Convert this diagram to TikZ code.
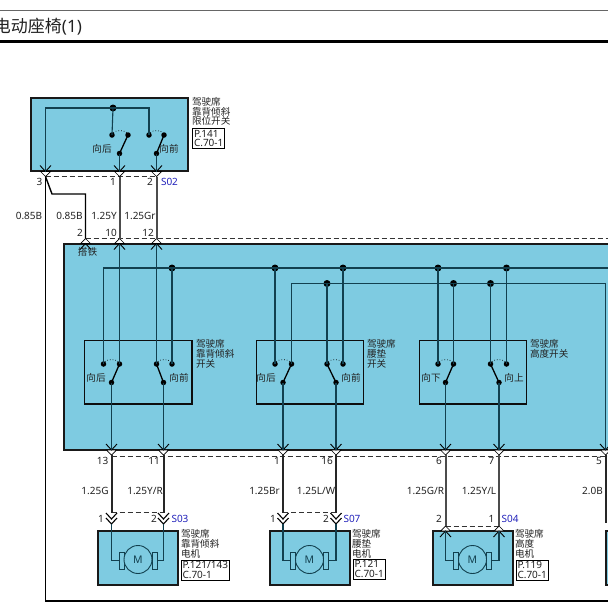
\documentclass[tikz,border=0pt]{standalone}
\usepackage{fontspec}
\setmainfont{Noto Sans}
\newfontfamily\cjk{Noto Sans CJK SC}
\definecolor{panel}{HTML}{7ECBE1}
\definecolor{inner}{HTML}{12404F}
\definecolor{pinblue}{HTML}{2222BB}
\definecolor{ink}{HTML}{222222}
\tikzset{
  every node/.append style={outer sep=0pt},
  panelbox/.style={draw=black!90,line width=2pt,fill=panel,inner sep=0pt},
  swbox/.style={draw=black!95,line width=1.9pt,fill=none,inner sep=0pt},
  refbox/.style={draw=black,line width=.9pt,fill=white,inner sep=1.5pt,align=left,text=ink,font=\fontsize{10}{9.8}\selectfont},
  wire/.style={draw=inner,line width=1.1pt},
  hwire/.style={draw=black!85,line width=2pt},
  gwire/.style={draw=black!70,line width=2pt},
  blackline/.style={draw=black,line width=1.1pt},
  dot/.style={circle,fill=black,inner sep=0pt,minimum size=5.5pt},
  bigdot/.style={circle,fill=black,inner sep=0pt,minimum size=7pt},
  dashln/.style={draw=black!80,line width=.9pt,dash pattern=on 5pt off 3pt},
  lbl/.style={inner sep=0pt,text=ink,font=\fontsize{10}{10}\selectfont},
  plbl/.style={lbl,text=pinblue},
  zh/.style={inner sep=0pt,anchor=west,align=left,text=ink,font=\cjk\fontsize{9.6}{9.7}\selectfont},
  zhc/.style={inner sep=0pt,text=ink,font=\cjk\fontsize{9.6}{9.7}\selectfont}
}
% pin on a lower box edge: arrow points down into a white wedge
\newcommand\pindown[3]{%
  \coordinate (#1) at (#2,#3);
  \coordinate (#1-t) at (#2,#3+5);
  \filldraw[fill=white,draw=black,line width=.7pt] (#2-5,#3) -- (#1-t) -- (#2+5,#3) -- cycle;
  \draw[blackline,line width=.9pt] (#2-5.5,#3-6) -- (#1) -- (#2+5.5,#3-6);}
% pin on an upper box edge: arrow points up into a white wedge
\newcommand\pinup[3]{%
  \coordinate (#1) at (#2,#3);
  \coordinate (#1-t) at (#2,#3-5);
  \filldraw[fill=white,draw=black,line width=.7pt] (#2-5,#3) -- (#1-t) -- (#2+5,#3) -- cycle;
  \draw[blackline,line width=.9pt] (#2-5.5,#3+6) -- (#1) -- (#2+5.5,#3+6);}
% double chevron above a motor
\newcommand\dblpin[3]{%
  \coordinate (#1-t) at (#2,#3-6);
  \coordinate (#1) at (#2,#3+5);
  \fill[white] (#2-5.5,#3-6) -- (#2,#3) -- (#2+5.5,#3-6) -- (#2+5.5,#3-1) -- (#2,#3+5) -- (#2-5.5,#3-1) -- cycle;
  \draw[blackline,line width=1.1pt] (#2-5.5,#3-6) -- (#2,#3) -- (#2+5.5,#3-6);
  \draw[blackline,line width=1.1pt] (#2-5.5,#3-1) -- (#2,#3+5) -- (#2+5.5,#3-1);}
% switch pair: name, contact a x, contact b x, pivot x, contact y, blade target
\newcommand\swpair[6]{%
  \node[dot] (#1-a) at (#2,#5) {};
  \node[dot] (#1-b) at (#3,#5) {};
  \node[dot] (#1-p) at (#4,#5+18.5) {};
  \draw[blackline,line width=1.3pt] (#1-p.center) -- (#1-#6.center);
  \draw[blackline,line width=.7pt,dotted] (#1-a) .. controls +(3,-5) and +(-3,-5) .. (#1-b);}
% motor: name, box left, motor centre x
\newcommand\motor[3]{%
  \node[panelbox,minimum width=79.5pt,minimum height=53.5pt,anchor=north west] (#1-box) at (#2,531) {};
  \node[draw=inner,line width=.9pt,minimum width=5pt,minimum height=17pt,inner sep=0pt] (#1-l) at (#3-16.5,560.5) {};
  \node[draw=inner,line width=.9pt,minimum width=5pt,minimum height=17pt,inner sep=0pt] (#1-r) at (#3+16.5,560.5) {};
  \node[circle,draw=inner,fill=panel,line width=.9pt,minimum size=28pt,inner sep=0pt,text=inner,font=\fontsize{10.5}{10.5}\selectfont] (#1-m) at (#3,559.5) {M};}
\begin{document}
\begin{tikzpicture}[x=1pt,y=-1pt]
\clip (0,0) rectangle (608,603);
\fill[white] (0,0) rectangle (608,603);
% header
\coordinate (hl1) at (0,10); \coordinate (hr1) at (608,10);
\coordinate (hl2) at (0,41.5); \coordinate (hr2) at (608,41.5);
\draw[draw=black!60,line width=.9pt] (hl1) -- (hr1);
\draw[black,line width=2.2pt] (hl2) -- (hr2);
\node[inner sep=0pt,anchor=west,text=ink,font=\fontsize{17}{17}\selectfont] (title) at (-6,27) {{\cjk 电动座椅}(1)};
% panels
\node[panelbox,minimum width=157pt,minimum height=73pt,anchor=north west] (topbox) at (31,98) {};
\node[panelbox,minimum width=600pt,minimum height=206.5pt,anchor=north west] (mainbox) at (63.5,243.5) {};
\node[swbox,minimum width=107.5pt,minimum height=63.5pt,anchor=north west] (sb1) at (84.5,340.5) {};
\node[swbox,minimum width=107pt,minimum height=63.5pt,anchor=north west] (sb2) at (256.5,340.5) {};
\node[swbox,minimum width=107pt,minimum height=63.5pt,anchor=north west] (sb3) at (419.5,340.5) {};
\motor{m1}{98}{138}
\motor{m2}{270}{309.5}
\motor{m3}{433}{472.5}
\node[panelbox,minimum width=60pt,minimum height=53.5pt,anchor=north west] (m4box) at (606,531) {};
% dashed connector bodies
\coordinate (da1) at (45.5,176.5); \coordinate (da2) at (156.5,176.5);
\coordinate (db1) at (85.5,238.5); \coordinate (db2) at (608,238.5);
\coordinate (dc1) at (111.5,456); \coordinate (dc2) at (608,456);
\draw[dashln] (da1) -- (da2);
\draw[dashln] (db1) -- (db2);
\draw[dashln] (dc1) -- (dc2);
\coordinate (dd1) at (111.5,512.5); \coordinate (dd2) at (163.5,512.5);
\coordinate (de1) at (283,512.5); \coordinate (de2) at (336,512.5);
\coordinate (df1) at (445.5,526); \coordinate (df2) at (499,526);
\draw[dashln] (dd1) -- (dd2);
\draw[dashln] (de1) -- (de2);
\draw[dashln] (df1) -- (df2);
% top switch
\node[bigdot] (tj) at (113,108) {};
\swpair{ts1}{112}{128}{119.5}{135}{b}
\swpair{ts2}{149}{164}{156.5}{135}{b}
\pindown{t3}{45.5}{171.5}
\pindown{t1}{119.5}{171.5}
\pindown{t2}{156.5}{171.5}
\coordinate (tc) at (45.5,108);
\draw[wire] (t3) -- (tc) -- (tj.center) -| (ts2-a.center);
\draw[wire] (tj.center) -- (ts1-a.center);
\draw[wire] (ts1-p.center) -- (t1);
\draw[wire] (ts2-p.center) -- (t2);
% main panel pins
\pinup{g2}{85.5}{243.5}
\pinup{g10}{119.5}{243.5}
\pinup{g12}{156.5}{243.5}
\pindown{b13}{111.5}{450}
\pindown{b11}{163.5}{450}
\pindown{b1}{283}{450}
\pindown{b16}{336}{450}
\pindown{b6}{445.5}{450}
\pindown{b7}{499}{450}
\pindown{b5}{605.5}{450}
% harness wires
\coordinate (g1) at (52,194); \coordinate (g3) at (85.5,194);
\coordinate (oc) at (45.5,601); \coordinate (oe) at (608,601);
\draw[blackline,line width=1.4pt] (t3-t) -- (oc) -- (oe);
\draw[blackline,line width=1.4pt] (t3-t) -- (g1) -- (g3) -- (g2-t);
\draw[gwire] (t1-t) -- (g10-t);
\draw[gwire] (t2-t) -- (g12-t);
% motor side connectors
\dblpin{p1}{111.5}{519}
\dblpin{p2}{163.5}{519}
\dblpin{p3}{283}{519}
\dblpin{p4}{336}{519}
\pinup{p5}{445.5}{531}
\pinup{p6}{499}{531}
\draw[hwire] (b13-t) -- (p1-t);
\draw[hwire] (b11-t) -- (p2-t);
\draw[hwire] (b1-t) -- (p3-t);
\draw[hwire] (b16-t) -- (p4-t);
\draw[gwire] (b6-t) -- (p5-t);
\draw[gwire] (b7-t) -- (p6-t);
\coordinate (p7) at (605.5,523);
\draw[hwire] (b5-t) -- (p7);
% motor wiring
\draw[wire] (p1) |- (m1-l.west); \draw[wire] (p2) |- (m1-r.east);
\draw[wire] (p3) |- (m2-l.west); \draw[wire] (p4) |- (m2-r.east);
\draw[wire] (p5) |- (m3-l.west); \draw[wire] (p6) |- (m3-r.east);
% panel switches
\swpair{s1}{103.5}{119.5}{111.5}{364}{b}
\swpair{s2}{156.5}{172}{163.5}{364}{a}
\swpair{s3}{275}{291.5}{283}{364}{b}
\swpair{s4}{327}{343}{336}{364}{a}
\swpair{s5}{438}{453.5}{445.5}{364}{b}
\swpair{s6}{490.5}{506.5}{499}{364}{a}
% buses
\node[bigdot] (j1) at (172,268) {};
\node[bigdot] (j2) at (275,268) {};
\node[bigdot] (j3) at (343,268) {};
\node[bigdot] (j4) at (438,268) {};
\node[bigdot] (j5) at (506.5,268) {};
\node[bigdot] (k1) at (327,283.5) {};
\node[bigdot] (k2) at (453.5,283.5) {};
\node[bigdot] (k3) at (490.5,283.5) {};
\coordinate (busa) at (103.5,268); \coordinate (busb) at (608,268);
\coordinate (busc) at (291.5,283.5); \coordinate (busd) at (605.5,283.5);
\draw[wire] (s1-a.center) -- (busa) -- (busb);
\draw[wire] (s3-b.center) -- (busc) -- (busd) -- (b5);
\draw[wire] (s1-b.center) -- (g10);
\draw[wire] (s2-a.center) -- (g12);
\draw[wire] (s2-b.center) -- (j1.center);
\draw[wire] (s3-a.center) -- (j2.center);
\draw[wire] (s4-a.center) -- (k1.center);
\draw[wire] (s4-b.center) -- (j3.center);
\draw[wire] (s5-a.center) -- (j4.center);
\draw[wire] (s5-b.center) -- (k2.center);
\draw[wire] (s6-a.center) -- (k3.center);
\draw[wire] (s6-b.center) -- (j5.center);
\draw[wire] (s1-p.center) -- (b13);
\draw[wire] (s2-p.center) -- (b11);
\draw[wire] (s3-p.center) -- (b1);
\draw[wire] (s4-p.center) -- (b16);
\draw[wire] (s5-p.center) -- (b6);
\draw[wire] (s6-p.center) -- (b7);
% labels
\node[lbl] (n3) at (39.5,182) {3};
\node[lbl] (n1) at (113,182) {1};
\node[lbl] (n2) at (150,182) {2};
\node[plbl] (s02) at (169.5,182) {S02};
\node[lbl] (w1) at (29,215.5) {0.85B};
\node[lbl] (w2) at (69.5,215.5) {0.85B};
\node[lbl] (w3) at (104,215.5) {1.25Y};
\node[lbl] (w4) at (140,215.5) {1.25Gr};
\node[lbl] (n4) at (80,232.5) {2};
\node[lbl] (n5) at (111,232.5) {10};
\node[lbl] (n6) at (148,232.5) {12};
\node[zhc] (gnd) at (87.5,251.5) {搭铁};
\node[lbl] (q1) at (102.5,461) {13};
\node[lbl] (q2) at (154,461) {11};
\node[lbl] (q3) at (277,461) {1};
\node[lbl] (q4) at (327,461) {16};
\node[lbl] (q5) at (439,461) {6};
\node[lbl] (q6) at (491.5,461) {7};
\node[lbl] (q7) at (599,461) {5};
\node[lbl] (x1) at (95,491) {1.25G};
\node[lbl] (x2) at (145,491) {1.25Y/R};
\node[lbl] (x3) at (264.5,491) {1.25Br};
\node[lbl] (x4) at (316,491) {1.25L/W};
\node[lbl] (x5) at (425.5,491) {1.25G/R};
\node[lbl] (x6) at (479,491) {1.25Y/L};
\node[lbl] (x7) at (592.5,491) {2.0B};
\node[lbl] (r1) at (101,519) {1};
\node[lbl] (r2) at (154,519) {2};
\node[plbl] (s03) at (180,519) {S03};
\node[lbl] (r3) at (273,519) {1};
\node[lbl] (r4) at (326,519) {2};
\node[plbl] (s07) at (352,519) {S07};
\node[lbl] (r5) at (439,519) {2};
\node[lbl] (r6) at (491.5,519) {1};
\node[plbl] (s04) at (510,519) {S04};
\node[zhc] (l1) at (102,148.5) {向后};
\node[zhc] (l2) at (169,148.5) {向前};
\node[zhc] (l3) at (96,378) {向后};
\node[zhc] (l4) at (179,378) {向前};
\node[zhc] (l5) at (266,378) {向后};
\node[zhc] (l6) at (351,378) {向前};
\node[zhc] (l7) at (431,378) {向下};
\node[zhc] (l8) at (514,378) {向上};
\node[zh] (c1) at (192,111.5) {驾驶席\\靠背倾斜\\限位开关};
\node[zh] (c2) at (196,354) {驾驶席\\靠背倾斜\\开关};
\node[zh] (c3) at (367,354) {驾驶席\\腰垫\\开关};
\node[zh] (c4) at (530,349) {驾驶席\\高度开关};
\node[zh] (c5) at (181,544) {驾驶席\\靠背倾斜\\电机};
\node[zh] (c6) at (352,544) {驾驶席\\腰垫\\电机};
\node[zh] (c7) at (515,544) {驾驶席\\高度\\电机};
\node[refbox,anchor=north west] (ra) at (192.5,128.5) {P.141\\C.70-1};
\node[refbox,anchor=north west] (rb) at (181,560) {P.121/143\\C.70-1};
\node[refbox,anchor=north west] (rc) at (353,559) {P.121\\C.70-1};
\node[refbox,anchor=north west] (rd) at (516,560) {P.119\\C.70-1};
\end{tikzpicture}
\end{document}
